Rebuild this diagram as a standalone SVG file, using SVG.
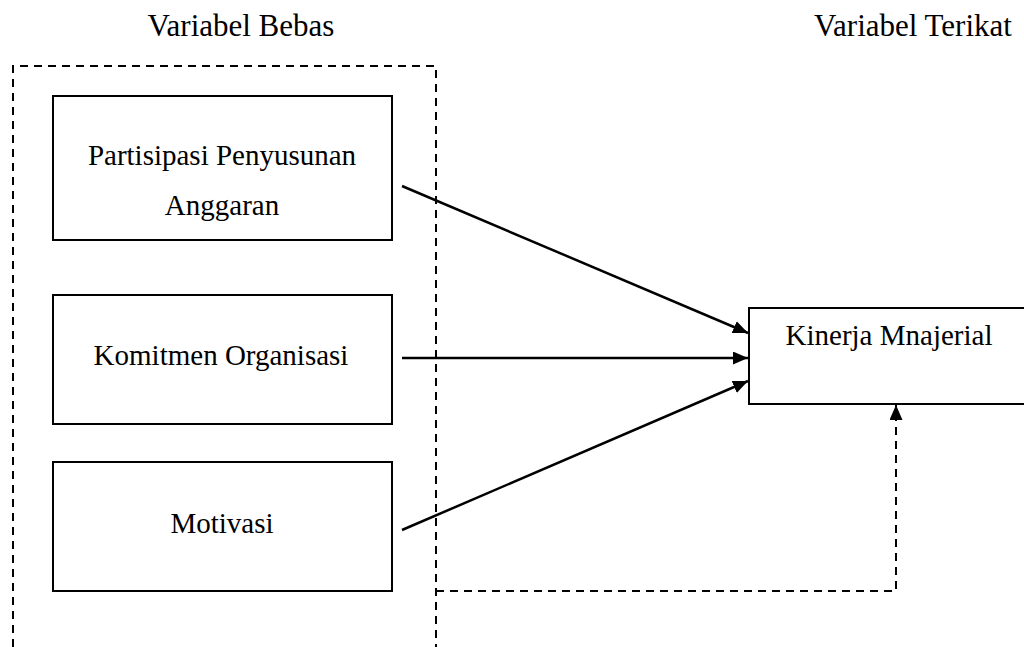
<svg xmlns="http://www.w3.org/2000/svg" width="1024" height="647" viewBox="0 0 1024 647">
<style>
text{font-family:"Liberation Serif","Times New Roman",serif;fill:#000;text-anchor:middle}
.hdr{font-size:31px}
.lbl{font-size:29px}
.box{fill:#fff;stroke:#000;stroke-width:2}
.dash{fill:none;stroke:#000;stroke-width:2;stroke-dasharray:8 6}
.arr{fill:none;stroke:#000;stroke-width:2.5}
</style>
<defs>
<marker id="ah" markerUnits="userSpaceOnUse" markerWidth="16" markerHeight="14" refX="15" refY="6.5" orient="auto">
<path d="M0,0 L15,6.5 L0,13 z" fill="#000"/>
</marker>
</defs>
<rect width="1024" height="647" fill="#fff"/>
<g id="headers">
<text class="hdr" x="241" y="36">Variabel Bebas</text>
<text class="hdr" x="913" y="36">Variabel Terikat</text>
</g>
<g id="group-bebas">
<path class="dash" d="M13,647 V66 H436 V647"/>
</g>
<g id="node-partisipasi">
<rect class="box" x="53" y="96" width="339" height="144"/>
<text class="lbl" x="222" y="165">Partisipasi Penyusunan</text>
<text class="lbl" x="222" y="215">Anggaran</text>
</g>
<g id="node-komitmen">
<rect class="box" x="53" y="295" width="339" height="129"/>
<text class="lbl" x="221" y="365">Komitmen Organisasi</text>
</g>
<g id="node-motivasi">
<rect class="box" x="53" y="462" width="339" height="129"/>
<text class="lbl" x="222" y="533">Motivasi</text>
</g>
<g id="node-kinerja">
<rect class="box" x="749" y="308" width="300" height="96"/>
<text class="lbl" x="889" y="345">Kinerja Mnajerial</text>
</g>
<g id="connectors">
<line class="arr" x1="402" y1="186" x2="748" y2="333" marker-end="url(#ah)"/>
<line class="arr" x1="402" y1="358" x2="748" y2="358" marker-end="url(#ah)"/>
<line class="arr" x1="402" y1="530" x2="748" y2="381" marker-end="url(#ah)"/>
<path class="dash" d="M436,591 H896 V405" marker-end="url(#ah)"/>
</g>
</svg>
